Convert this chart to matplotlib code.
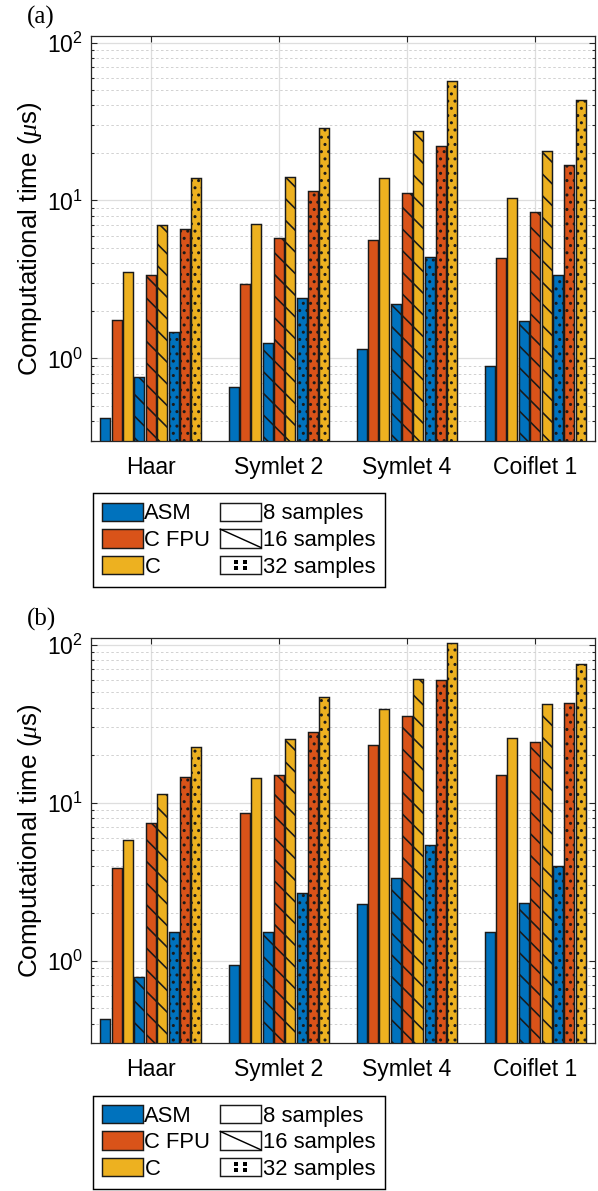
import matplotlib
matplotlib.use('Agg')
import matplotlib.pyplot as plt
import numpy as np
from matplotlib.patches import Patch, Rectangle
from matplotlib.lines import Line2D
from matplotlib.legend_handler import HandlerBase
from matplotlib.ticker import FixedLocator, LogLocator, NullFormatter

# ---------------- data ----------------
wavelets = ['Haar', 'Symlet 2', 'Symlet 4', 'Coiflet 1']
implementations = ['ASM', 'C FPU', 'C']
sample_labels = ['8 samples', '16 samples', '32 samples']

# panel (a)
a_asm_8 = [0.42, 0.66, 1.15, 0.90]
a_asm_16 = [0.76, 1.25, 2.21, 1.72]
a_asm_32 = [1.46, 2.41, 4.36, 3.37]
a_cfpu_8 = [1.76, 2.94, 5.64, 4.30]
a_cfpu_16 = [3.37, 5.78, 11.1, 8.44]
a_cfpu_32 = [6.62, 11.4, 22.1, 16.8]
a_c_8 = [3.54, 7.09, 13.9, 10.4]
a_c_16 = [6.99, 14.1, 27.6, 20.7]
a_c_32 = [13.9, 28.8, 57.3, 43.4]

# panel (b)
b_asm_8 = [0.43, 0.94, 2.30, 1.53]
b_asm_16 = [0.79, 1.53, 3.32, 2.33]
b_asm_32 = [1.51, 2.69, 5.37, 3.96]
b_cfpu_8 = [3.84, 8.64, 23.2, 15.1]
b_cfpu_16 = [7.41, 15.1, 35.4, 24.3]
b_cfpu_32 = [14.5, 27.9, 59.5, 42.9]
b_c_8 = [5.81, 14.4, 39.2, 25.8]
b_c_16 = [11.4, 25.2, 60.4, 42.2]
b_c_32 = [22.5, 46.9, 103.0, 75.2]

# ---------------- style ----------------
DPI = 130
W, H = 598, 1191


def px(p):
    return p * 72.0 / DPI


plt.rcParams.update({
    'font.family': ['Liberation Sans', 'DejaVu Sans'],
    'mathtext.fontset': 'custom',
    'mathtext.rm': 'Liberation Sans',
    'mathtext.it': 'Liberation Serif:italic',
    'mathtext.bf': 'Liberation Sans:bold',
    'hatch.linewidth': 0.9,
    'hatch.color': 'black',
})

impl_colors = {'ASM': '#0072BD', 'C FPU': '#D95319', 'C': '#EDB120'}
sample_hatch = {'8 samples': None, '16 samples': '\\\\', '32 samples': '...'}
EDGE = '#1a1a1a'
SPINE = '#262626'

panels = [
    ('(a)', [[a_asm_8, a_cfpu_8, a_c_8], [a_asm_16, a_cfpu_16, a_c_16], [a_asm_32, a_cfpu_32, a_c_32]], 36.0),
    ('(b)', [[b_asm_8, b_cfpu_8, b_c_8], [b_asm_16, b_cfpu_16, b_c_16], [b_asm_32, b_cfpu_32, b_c_32]], 638.3),
]

fig = plt.figure(figsize=(W / DPI, H / DPI), dpi=DPI)

ax_left, ax_right = 91.0, 595.0
ax_h = 405.0
pitch = 0.0885
bar_w = 0.078
LEG_FS = 22.0


class SampleHandler(HandlerBase):
    def __init__(self, kind):
        super().__init__()
        self.kind = kind

    def create_artists(self, legend, orig_handle, xdescent, ydescent,
                       width, height, fontsize, trans):
        x0, y0 = -xdescent, -ydescent
        arts = [Rectangle((x0, y0), width, height, facecolor='white',
                          edgecolor=EDGE, lw=0.8, transform=trans)]
        if self.kind == 'diag':
            arts.append(Line2D([x0, x0 + width], [y0 + height, y0], color='k',
                               lw=0.8, transform=trans))
        elif self.kind == 'dots':
            cx, cy = x0 + width / 2, y0 + height / 2
            dx, dy = width * 0.107, height * 0.17
            arts.append(Line2D([cx - dx, cx + dx, cx - dx, cx + dx],
                               [cy + dy, cy + dy, cy - dy, cy - dy], ls='none',
                               marker='s', ms=px(3.4), mew=0, color='k',
                               transform=trans))
        return arts


for label, groups, top_px in panels:
    bottom_px = top_px + ax_h
    ax = fig.add_axes([ax_left / W, 1 - bottom_px / H,
                       (ax_right - ax_left) / W, ax_h / H])
    ax.set_yscale('log')
    x = np.arange(1, len(wavelets) + 1)
    i = 0
    for s_lab, impl_vals in zip(sample_labels, groups):
        for impl, vals in zip(implementations, impl_vals):
            ax.bar(x + (i - 4) * pitch, vals, bar_w, color=impl_colors[impl],
                   edgecolor=EDGE, linewidth=0.8, hatch=sample_hatch[s_lab],
                   zorder=2)
            i += 1
    ax.set_ylim(0.3, 110)
    ax.set_xlim(0.533, 4.467)
    ax.xaxis.set_major_locator(FixedLocator(x))
    ax.set_xticklabels(wavelets)
    ax.yaxis.set_major_locator(LogLocator(base=10, numticks=10))
    ax.yaxis.set_minor_locator(LogLocator(base=10, subs=np.arange(2, 10), numticks=20))
    ax.yaxis.set_minor_formatter(NullFormatter())
    ax.set_axisbelow(True)
    ax.grid(True, which='major', axis='both', color='#dedede', lw=0.7, ls='-')
    ax.grid(True, which='minor', axis='y', color='#d2d2d2', lw=0.55, ls=(0, (2.5, 2.5)))
    ax.tick_params(which='both', direction='in', top=True, right=True,
                   color=SPINE, width=0.6)
    ax.tick_params(which='major', length=px(6), labelsize=px(23))
    ax.tick_params(which='minor', length=px(3))
    ax.tick_params(axis='x', which='major', pad=px(15))
    ax.tick_params(axis='y', which='major', pad=px(8))
    for sp in ax.spines.values():
        sp.set_color(SPINE)
        sp.set_linewidth(0.7)
    ax.set_ylabel('Computational time ($\\mu$s)', fontsize=px(26))
    ax.yaxis.set_label_coords(-0.094, 0.5)

    fig.text(27 / W, 1 - (top_px - 19) / H, label, family='Liberation Serif',
             fontsize=px(25), ha='left', va='center')

    color_handles = [Patch(facecolor=impl_colors[k], edgecolor=EDGE, lw=0.8)
                     for k in implementations]
    sample_handles = [Patch(facecolor='white', edgecolor=EDGE) for _ in sample_labels]
    handler_map = {sample_handles[0]: SampleHandler('plain'),
                   sample_handles[1]: SampleHandler('diag'),
                   sample_handles[2]: SampleHandler('dots')}
    leg = fig.legend(color_handles + sample_handles, implementations + sample_labels,
                     ncol=2, loc='upper left',
                     bbox_to_anchor=(92.7 / W, 1 - (bottom_px + 52.3) / H),
                     bbox_transform=fig.transFigure, fontsize=px(LEG_FS),
                     handlelength=40.7 / LEG_FS, handleheight=20.0 / LEG_FS,
                     handletextpad=0.08, columnspacing=0.45, labelspacing=0.22,
                     borderpad=0.42, borderaxespad=0, frameon=True, fancybox=False,
                     framealpha=1, edgecolor='black', handler_map=handler_map)
    leg.get_frame().set_linewidth(0.8)

fig.savefig('out.png', dpi=DPI)
